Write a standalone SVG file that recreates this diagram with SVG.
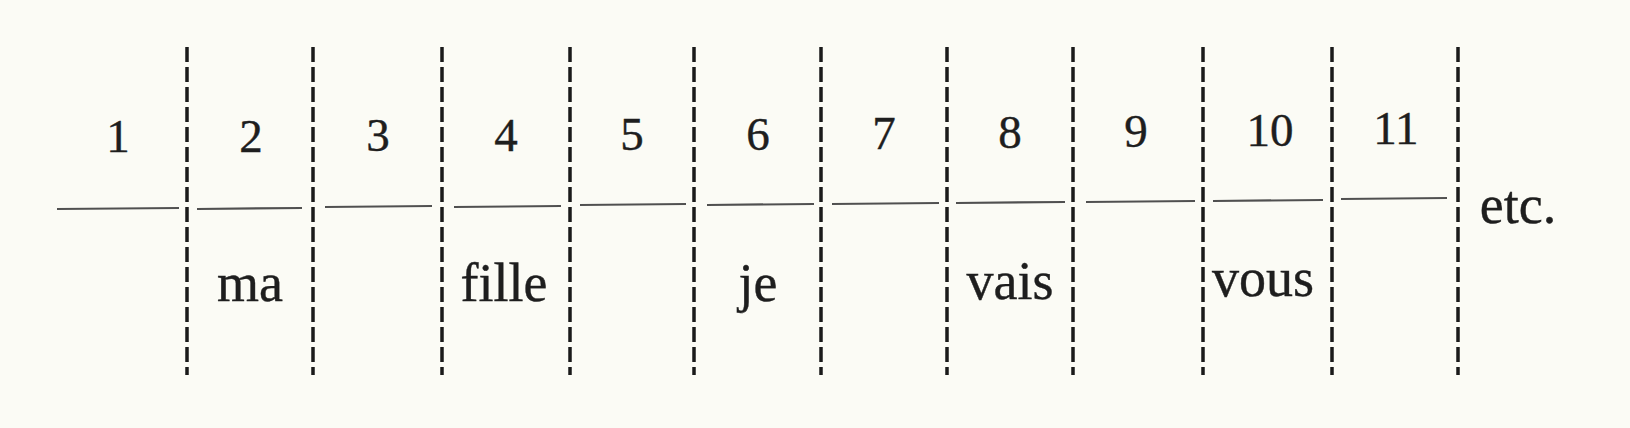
<svg xmlns="http://www.w3.org/2000/svg" width="1630" height="428" viewBox="0 0 1630 428">
<style>
.num{font-family:"Liberation Serif","Times New Roman",serif;font-size:47px;fill:#1e1e1e;stroke:#1e1e1e;stroke-width:0.4;text-anchor:middle}
.word{font-family:"Liberation Serif","Times New Roman",serif;font-size:54px;fill:#1e1e1e;stroke:#1e1e1e;stroke-width:0.4;text-anchor:middle}
.div{stroke:#1a1a1a;stroke-width:3.5;stroke-dasharray:15 5;fill:none}
.seg{stroke:#505050;stroke-width:2.2;fill:none}
</style>
<rect width="1630" height="428" fill="#fbfbf5"/>
<g id="connectors">
<line class="seg" x1="57" y1="209" x2="179" y2="208"/>
<line class="seg" x1="197" y1="209" x2="302" y2="208"/>
<line class="seg" x1="325" y1="207" x2="432" y2="206"/>
<line class="seg" x1="454" y1="207" x2="561" y2="206"/>
<line class="seg" x1="580" y1="205" x2="686" y2="204"/>
<line class="seg" x1="707" y1="205" x2="814" y2="204"/>
<line class="seg" x1="832" y1="204" x2="939" y2="203"/>
<line class="seg" x1="956" y1="203" x2="1065" y2="202"/>
<line class="seg" x1="1086" y1="202" x2="1195" y2="201"/>
<line class="seg" x1="1213" y1="201" x2="1323" y2="200"/>
<line class="seg" x1="1341" y1="199" x2="1447" y2="198"/>
<line class="div" x1="187" y1="47" x2="187" y2="375"/>
<line class="div" x1="313" y1="47" x2="313" y2="375"/>
<line class="div" x1="442" y1="47" x2="442" y2="375"/>
<line class="div" x1="570" y1="47" x2="570" y2="375"/>
<line class="div" x1="694" y1="47" x2="694" y2="375"/>
<line class="div" x1="821" y1="47" x2="821" y2="375"/>
<line class="div" x1="947" y1="47" x2="947" y2="375"/>
<line class="div" x1="1073" y1="47" x2="1073" y2="375"/>
<line class="div" x1="1203" y1="47" x2="1203" y2="375"/>
<line class="div" x1="1332" y1="47" x2="1332" y2="375"/>
<line class="div" x1="1458" y1="47" x2="1458" y2="375"/>
</g>
<g id="n1"><text class="num" x="118" y="152">1</text></g>
<g id="n2"><text class="num" x="251" y="152">2</text><text class="word" x="250" y="301">ma</text></g>
<g id="n3"><text class="num" x="378" y="151">3</text></g>
<g id="n4"><text class="num" x="506" y="151">4</text><text class="word" x="504" y="301">fille</text></g>
<g id="n5"><text class="num" x="632" y="150">5</text></g>
<g id="n6"><text class="num" x="758" y="150">6</text><text class="word" x="758" y="301">je</text></g>
<g id="n7"><text class="num" x="884" y="149">7</text></g>
<g id="n8"><text class="num" x="1010" y="148">8</text><text class="word" x="1010" y="299">vais</text></g>
<g id="n9"><text class="num" x="1136" y="147">9</text></g>
<g id="n10"><text class="num" x="1270" y="146">10</text><text class="word" x="1263" y="296">vous</text></g>
<g id="n11"><text class="num" x="1396" y="144">11</text></g>
<g id="etc"><text class="word" x="1518" y="223">etc.</text></g>
</svg>
